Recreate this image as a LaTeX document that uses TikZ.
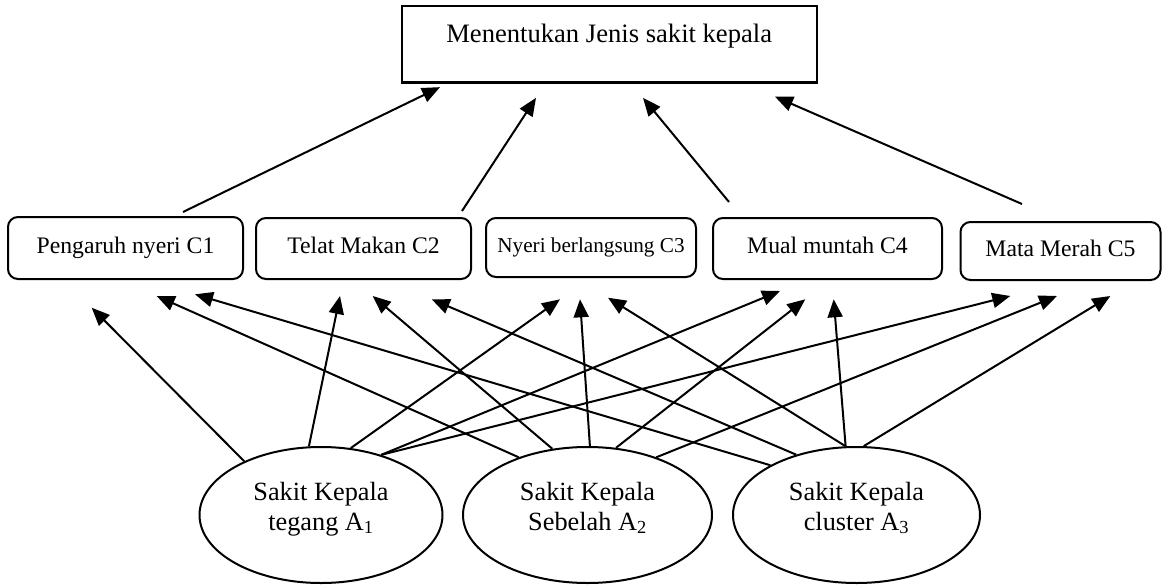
\documentclass[tikz,border=0pt]{standalone}
\usepackage{fontspec}
\setmainfont{Liberation Serif}
\usetikzlibrary{shapes.geometric,arrows.meta,calc}
\begin{document}
\begin{tikzpicture}[x=1pt,y=-1pt,
  topbox/.style={draw,line width=2.4pt,minimum width=415pt,minimum height=76.7pt,inner sep=0pt,
    font=\fontsize{26.6pt}{30pt}\selectfont,text height=18pt,text depth=21pt},
  crit/.style={draw,rounded corners=10pt,line width=2pt,inner sep=0pt,
    font=\fontsize{23.7pt}{28pt}\selectfont,text height=16pt,text depth=5.4pt},
  critsmall/.style={crit,font=\fontsize{21.2pt}{25pt}\selectfont,text height=14pt,text depth=5pt},
  ell/.style={ellipse,draw,line width=2pt,inner sep=0pt,align=center,
    font=\fontsize{26.3pt}{30pt}\selectfont,minimum height=136pt},
  arr/.style={line width=2pt,-{Triangle[length=18pt,width=15pt]}}]
\fill[white] (0,0) rectangle (1162,586);
\useasboundingbox (0,0) rectangle (1162,586);

% nodes
\node[topbox] (top) at (609.2,44.3) {Menentukan Jenis sakit kepala};
\node[crit,minimum width=235pt,minimum height=62pt] (c1) at (125.5,248) {Pengaruh nyeri C1};
\node[crit,minimum width=215pt,minimum height=61pt] (c2) at (363.5,248.5) {Telat Makan C2};
\node[critsmall,minimum width=210pt,minimum height=59pt] (c3) at (591,247.5) {Nyeri berlangsung C3};
\node[crit,minimum width=229pt,minimum height=61pt] (c4) at (827.5,248.5) {Mual muntah C4};
\node[crit,minimum width=200pt,minimum height=58pt] (c5) at (1060.5,251) {Mata Merah C5};

\node[ell,minimum width=243pt] (e1) at (321,515)
  {\rule{0pt}{18pt}Sakit Kepala\\tegang A\textsubscript{1}\rule[-18pt]{0pt}{18pt}};
\node[ell,minimum width=249pt] (e2) at (587.5,515)
  {\rule{0pt}{18pt}Sakit Kepala\\Sebelah A\textsubscript{2}\rule[-18pt]{0pt}{18pt}};
\node[ell,minimum width=247pt] (e3) at (856.5,515)
  {\rule{0pt}{18pt}Sakit Kepala\\cluster A\textsubscript{3}\rule[-18pt]{0pt}{18pt}};

% criteria -> goal
\draw[arr] ($(c1.north)+(57.5,-4)$) -- ($(top.south)+(-169.2,3.3)$);
\draw[arr] ($(c2.north)+(98.5,-6)$) -- ($(top.south)+(-73.2,14)$);
\draw[arr] ($(c4.north)+(-98.5,-15)$) -- ($(top.south)+(33.8,14)$);
\draw[arr] ($(c5.north)+(-38.5,-17)$) -- ($(top.south)+(165.8,12.8)$);

% alternatives -> criteria
\draw[arr] (e1.145.3) -- ($(c1.south)+(-33.8,27.7)$);
\draw[arr] (e1.100.5) -- ($(c2.south)+(-23.5,16)$);
\draw[arr] (e1.66.5) -- ($(c3.south)+(-31,21.3)$);
\draw[arr] (e1.45.5) -- ($(c4.south)+(-47.5,11)$);
\draw[arr] (e1.45.5) -- ($(c5.south)+(-50.2,15)$);

\draw[arr] (e2.140) -- ($(c1.south)+(31.2,16)$);
\draw[arr] (e2.118.8) -- ($(c2.south)+(9.2,16)$);
\draw[arr] (e2.88) -- ($(c3.south)+(-11,21.3)$);
\draw[arr] (e2.67.6) -- ($(c4.south)+(-22.2,19.3)$);
\draw[arr] (e2.40.8) -- ($(c5.south)+(-3.5,15)$);

\draw[arr] (e3.150.7) -- ($(c1.south)+(69.5,14.3)$);
\draw[arr] (e3.135.7) -- ($(c2.south)+(68.2,19.3)$);
\draw[arr] (e3.99.3) -- ($(c3.south)+(17,19.7)$);
\draw[arr] (e3.99.3) -- ($(c4.south)+(6.2,19.3)$);
\draw[arr] (e3.84.3) -- ($(c5.south)+(49.8,15)$);
\end{tikzpicture}
\end{document}
